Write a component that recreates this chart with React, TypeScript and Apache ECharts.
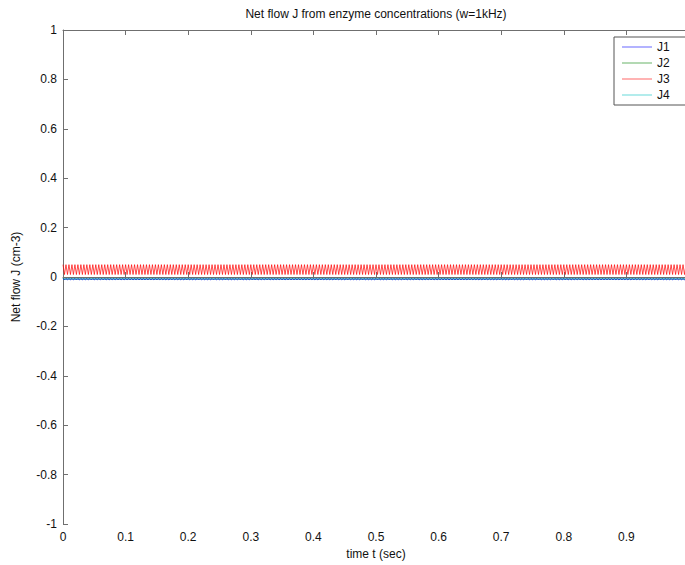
import React, { useEffect, useRef } from "react";
import * as echarts from "echarts";

const TITLE = "Net flow J from enzyme concentrations (w=1kHz)";
const X_NAME = "time t (sec)";
const Y_NAME = "Net flow J (cm-3)";
const SERIES_NAMES = ["J1", "J2", "J3", "J4"];
const COLORS = ["#0000ff", "#008000", "#ff0000", "#00bfbf"];
const N_SAMPLES = 420; // samples over 0..1 s
const X_TICK_STEP = 42; // 0.1 s

// J3 oscillates rapidly between ~0.01 and ~0.05
const J3 = [
  .05,.01,.05,.01,.05,.01,.05,.01,.05,.01,.05,.01,.05,.01,.05,.01,.05,.01,.05,.01,
  .05,.01,.05,.01,.05,.01,.05,.01,.05,.01,.05,.01,.05,.01,.05,.01,.05,.01,.05,.01,
  .05,.01,.05,.01,.05,.01,.05,.01,.05,.01,.05,.01,.05,.01,.05,.01,.05,.01,.05,.01,
  .05,.01,.05,.01,.05,.01,.05,.01,.05,.01,.05,.01,.05,.01,.05,.01,.05,.01,.05,.01,
  .05,.01,.05,.01,.05,.01,.05,.01,.05,.01,.05,.01,.05,.01,.05,.01,.05,.01,.05,.01,
  .05,.01,.05,.01,.05,.01,.05,.01,.05,.01,.05,.01,.05,.01,.05,.01,.05,.01,.05,.01,
  .05,.01,.05,.01,.05,.01,.05,.01,.05,.01,.05,.01,.05,.01,.05,.01,.05,.01,.05,.01,
  .05,.01,.05,.01,.05,.01,.05,.01,.05,.01,.05,.01,.05,.01,.05,.01,.05,.01,.05,.01,
  .05,.01,.05,.01,.05,.01,.05,.01,.05,.01,.05,.01,.05,.01,.05,.01,.05,.01,.05,.01,
  .05,.01,.05,.01,.05,.01,.05,.01,.05,.01,.05,.01,.05,.01,.05,.01,.05,.01,.05,.01,
  .05,.01,.05,.01,.05,.01,.05,.01,.05,.01,.05,.01,.05,.01,.05,.01,.05,.01,.05,.01,
  .05,.01,.05,.01,.05,.01,.05,.01,.05,.01,.05,.01,.05,.01,.05,.01,.05,.01,.05,.01,
  .05,.01,.05,.01,.05,.01,.05,.01,.05,.01,.05,.01,.05,.01,.05,.01,.05,.01,.05,.01,
  .05,.01,.05,.01,.05,.01,.05,.01,.05,.01,.05,.01,.05,.01,.05,.01,.05,.01,.05,.01,
  .05,.01,.05,.01,.05,.01,.05,.01,.05,.01,.05,.01,.05,.01,.05,.01,.05,.01,.05,.01,
  .05,.01,.05,.01,.05,.01,.05,.01,.05,.01,.05,.01,.05,.01,.05,.01,.05,.01,.05,.01,
  .05,.01,.05,.01,.05,.01,.05,.01,.05,.01,.05,.01,.05,.01,.05,.01,.05,.01,.05,.01,
  .05,.01,.05,.01,.05,.01,.05,.01,.05,.01,.05,.01,.05,.01,.05,.01,.05,.01,.05,.01,
  .05,.01,.05,.01,.05,.01,.05,.01,.05,.01,.05,.01,.05,.01,.05,.01,.05,.01,.05,.01,
  .05,.01,.05,.01,.05,.01,.05,.01,.05,.01,.05,.01,.05,.01,.05,.01,.05,.01,.05,.01,
  .05,.01,.05,.01,.05,.01,.05,.01,.05,.01,.05,.01,.05,.01,.05,.01,.05,.01,.05,.01,
  .05,
];

// J1 oscillates slightly just below zero
const J1 = [
  -.006,-.012,-.006,-.012,-.006,-.012,-.006,-.012,-.006,-.012,-.006,-.012,-.006,-.012,-.006,-.012,-.006,-.012,-.006,-.012,
  -.006,-.012,-.006,-.012,-.006,-.012,-.006,-.012,-.006,-.012,-.006,-.012,-.006,-.012,-.006,-.012,-.006,-.012,-.006,-.012,
  -.006,-.012,-.006,-.012,-.006,-.012,-.006,-.012,-.006,-.012,-.006,-.012,-.006,-.012,-.006,-.012,-.006,-.012,-.006,-.012,
  -.006,-.012,-.006,-.012,-.006,-.012,-.006,-.012,-.006,-.012,-.006,-.012,-.006,-.012,-.006,-.012,-.006,-.012,-.006,-.012,
  -.006,-.012,-.006,-.012,-.006,-.012,-.006,-.012,-.006,-.012,-.006,-.012,-.006,-.012,-.006,-.012,-.006,-.012,-.006,-.012,
  -.006,-.012,-.006,-.012,-.006,-.012,-.006,-.012,-.006,-.012,-.006,-.012,-.006,-.012,-.006,-.012,-.006,-.012,-.006,-.012,
  -.006,-.012,-.006,-.012,-.006,-.012,-.006,-.012,-.006,-.012,-.006,-.012,-.006,-.012,-.006,-.012,-.006,-.012,-.006,-.012,
  -.006,-.012,-.006,-.012,-.006,-.012,-.006,-.012,-.006,-.012,-.006,-.012,-.006,-.012,-.006,-.012,-.006,-.012,-.006,-.012,
  -.006,-.012,-.006,-.012,-.006,-.012,-.006,-.012,-.006,-.012,-.006,-.012,-.006,-.012,-.006,-.012,-.006,-.012,-.006,-.012,
  -.006,-.012,-.006,-.012,-.006,-.012,-.006,-.012,-.006,-.012,-.006,-.012,-.006,-.012,-.006,-.012,-.006,-.012,-.006,-.012,
  -.006,-.012,-.006,-.012,-.006,-.012,-.006,-.012,-.006,-.012,-.006,-.012,-.006,-.012,-.006,-.012,-.006,-.012,-.006,-.012,
  -.006,-.012,-.006,-.012,-.006,-.012,-.006,-.012,-.006,-.012,-.006,-.012,-.006,-.012,-.006,-.012,-.006,-.012,-.006,-.012,
  -.006,-.012,-.006,-.012,-.006,-.012,-.006,-.012,-.006,-.012,-.006,-.012,-.006,-.012,-.006,-.012,-.006,-.012,-.006,-.012,
  -.006,-.012,-.006,-.012,-.006,-.012,-.006,-.012,-.006,-.012,-.006,-.012,-.006,-.012,-.006,-.012,-.006,-.012,-.006,-.012,
  -.006,-.012,-.006,-.012,-.006,-.012,-.006,-.012,-.006,-.012,-.006,-.012,-.006,-.012,-.006,-.012,-.006,-.012,-.006,-.012,
  -.006,-.012,-.006,-.012,-.006,-.012,-.006,-.012,-.006,-.012,-.006,-.012,-.006,-.012,-.006,-.012,-.006,-.012,-.006,-.012,
  -.006,-.012,-.006,-.012,-.006,-.012,-.006,-.012,-.006,-.012,-.006,-.012,-.006,-.012,-.006,-.012,-.006,-.012,-.006,-.012,
  -.006,-.012,-.006,-.012,-.006,-.012,-.006,-.012,-.006,-.012,-.006,-.012,-.006,-.012,-.006,-.012,-.006,-.012,-.006,-.012,
  -.006,-.012,-.006,-.012,-.006,-.012,-.006,-.012,-.006,-.012,-.006,-.012,-.006,-.012,-.006,-.012,-.006,-.012,-.006,-.012,
  -.006,-.012,-.006,-.012,-.006,-.012,-.006,-.012,-.006,-.012,-.006,-.012,-.006,-.012,-.006,-.012,-.006,-.012,-.006,-.012,
  -.006,-.012,-.006,-.012,-.006,-.012,-.006,-.012,-.006,-.012,-.006,-.012,-.006,-.012,-.006,-.012,-.006,-.012,-.006,-.012,
  -.006,
];

// J2 and J4 stay flat near zero (hidden beneath J1/J3)
const J2 = [[0, -0.008], [420, -0.008]];
const J4 = [[0, -0.008], [420, -0.008]];

const FONT = "Liberation Sans, Arial, Helvetica, sans-serif";
const AXIS_COLOR = "#6f6f6f";

export default function App() {
  const ref = useRef<HTMLDivElement>(null);
  useEffect(() => {
    if (!ref.current) return;
    const chart = echarts.init(ref.current, null, { renderer: "svg" });
    const xLabel = (v: number) => (v === 0 ? "0" : (v / N_SAMPLES).toFixed(1));
    const indexed = (arr: number[]) => arr.map((v, i) => [i, v]);
    const baseX = {
      type: "value" as const,
      min: 0,
      max: N_SAMPLES,
      interval: X_TICK_STEP,
      axisLine: { show: true, lineStyle: { color: AXIS_COLOR, width: 1 } },
      axisTick: { show: true, inside: true, length: 5, lineStyle: { color: AXIS_COLOR } },
      splitLine: { show: false },
    };
    const line = (name: string, data: any, color: string, z: number) => ({
      name,
      type: "line",
      data,
      showSymbol: false,
      symbol: "none",
      lineStyle: { color, width: 1, opacity: 0.7 },
      itemStyle: { color, opacity: 0.6 },
      z,
    });
    chart.setOption({
      animation: false,
      backgroundColor: "#ffffff",
      textStyle: { fontFamily: FONT },
      grid: {
        left: 63,
        top: 30,
        right: -4,
        bottom: 41,
        containLabel: false,
        outerBoundsMode: "none",
      },
      graphic: [
        {
          type: "text",
          x: 376,
          y: 14,
          style: {
            text: TITLE,
            fontFamily: FONT,
            fontSize: 12,
            fill: "#111",
            textAlign: "center",
            textVerticalAlign: "middle",
          },
        },
      ],
      legend: {
        orient: "vertical",
        left: 614,
        top: 37,
        data: SERIES_NAMES,
        icon: "rect",
        itemWidth: 30,
        itemHeight: 1,
        itemGap: 2,
        padding: [3, 60, 3, 8],
        borderColor: "#555",
        borderWidth: 1,
        backgroundColor: "#fff",
        textStyle: { fontFamily: FONT, fontSize: 12, color: "#111", lineHeight: 14 },
      },
      xAxis: [
        {
          ...baseX,
          position: "bottom",
          name: X_NAME,
          nameLocation: "middle",
          nameGap: 24,
          nameTextStyle: { fontFamily: FONT, fontSize: 12, color: "#111" },
          axisLabel: {
            formatter: xLabel,
            fontFamily: FONT,
            fontSize: 12,
            color: "#111",
            margin: 7,
            showMaxLabel: false,
          },
        },
        {
          ...baseX,
          position: "top",
          axisLabel: { show: false },
        },
      ],
      yAxis: [
        {
          type: "value",
          min: -1,
          max: 1,
          interval: 0.2,
          name: Y_NAME,
          nameLocation: "middle",
          nameGap: 41,
          nameTextStyle: { fontFamily: FONT, fontSize: 12, color: "#111" },
          axisLine: { show: true, lineStyle: { color: AXIS_COLOR, width: 1 } },
          axisTick: { show: true, inside: true, length: 5, lineStyle: { color: AXIS_COLOR } },
          splitLine: { show: false },
          axisLabel: {
            fontFamily: FONT,
            fontSize: 12,
            color: "#111",
            margin: 6,
            formatter: (v: number) => String(Math.round(v * 10) / 10),
          },
        },
      ],
      series: [
        line("J1", indexed(J1), COLORS[0], 3),
        line("J2", J2, COLORS[1], 1),
        line("J3", indexed(J3), COLORS[2], 3),
        line("J4", J4, COLORS[3], 1),
      ],
    });
    return () => chart.dispose();
  }, []);
  return (
    <div
      ref={ref}
      style={{ position: "fixed", left: 0, top: 0, width: 685, height: 565, background: "#fff" }}
    />
  );
}
